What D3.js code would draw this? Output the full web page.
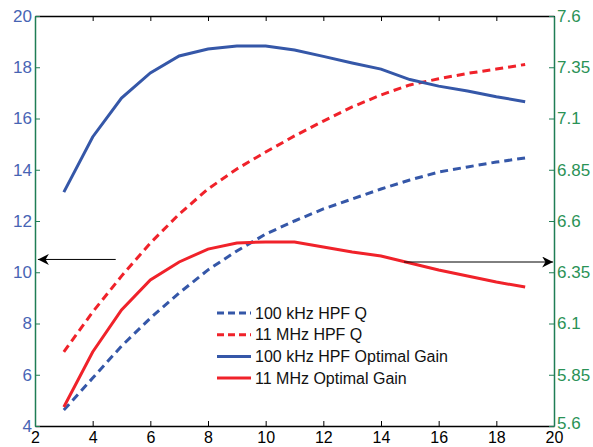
<!DOCTYPE html>
<html>
<head>
<meta charset="utf-8">
<script src="https://cdn.jsdelivr.net/npm/d3@7"></script>
<style>
  body { margin: 0; background: #fff; }
  svg { display: block; font-family: "Liberation Sans", Arial, sans-serif; }
</style>
</head>
<body>
<svg id="chart" width="593" height="447"></svg>
<script>
// Data
const xs = [3, 4, 5, 6, 7, 8, 9, 10, 11, 12, 13, 14, 15, 16, 17, 18, 19];

// left axis (Q)
const q100k = [4.62, 5.87, 7.12, 8.21, 9.19, 10.09, 10.83, 11.49, 12.00, 12.47, 12.86, 13.25, 13.60, 13.91, 14.11, 14.30, 14.46];
const q11M  = [6.89, 8.45, 9.85, 11.14, 12.27, 13.25, 14.03, 14.69, 15.32, 15.90, 16.45, 16.92, 17.31, 17.55, 17.76, 17.93, 18.11];

// right axis (gain)
const gain100k = [6.741, 7.010, 7.200, 7.322, 7.405, 7.439, 7.454, 7.454, 7.434, 7.403, 7.371, 7.341, 7.290, 7.258, 7.234, 7.206, 7.182];
const gain11M  = [5.693, 5.961, 6.166, 6.312, 6.400, 6.463, 6.493, 6.498, 6.498, 6.473, 6.449, 6.429, 6.395, 6.361, 6.332, 6.302, 6.278];

const xTicks = [2, 4, 6, 8, 10, 12, 14, 16, 18, 20];
const leftTicks = [4, 6, 8, 10, 12, 14, 16, 18, 20];
const rightTicks = [5.6, 5.85, 6.1, 6.35, 6.6, 6.85, 7.1, 7.35, 7.6];

const legendNames = ['100 kHz HPF Q', '11 MHz HPF Q', '100 kHz HPF Optimal Gain', '11 MHz Optimal Gain'];

const BLUE = '#3557a8';
const RED = '#f0222a';
const GREEN = '#1f7d55';
const GREEN_TXT = '#2a9256';
const BLUE_TXT = '#4764b4';

const margin = { left: 35, right: 39, top: 16, bottom: 21 };
const W = 593, H = 447;

const svg = d3.select('#chart');

const x = d3.scaleLinear().domain([2, 20]).range([margin.left, W - margin.right]);
const yL = d3.scaleLinear().domain([4, 20]).range([H - margin.bottom, margin.top]);
const yR = d3.scaleLinear().domain([5.6, 7.6]).range([H - margin.bottom, margin.top]);

// axes, ticks pointing inward
const axBottom = svg.append('g')
  .attr('transform', `translate(0,${H - margin.bottom})`)
  .call(d3.axisBottom(x).tickValues(xTicks).tickSize(-5).tickSizeOuter(0).tickPadding(6));
axBottom.selectAll('text').attr('font-size', 16).attr('fill', '#000');
axBottom.select('.domain').attr('stroke', '#000').attr('stroke-width', 1.5);

const axTop = svg.append('g')
  .attr('transform', `translate(0,${margin.top})`)
  .call(d3.axisTop(x).tickValues(xTicks).tickSize(-5).tickSizeOuter(0).tickFormat(''));
axTop.select('.domain').attr('stroke', '#000').attr('stroke-width', 1.5);

const axLeft = svg.append('g')
  .attr('transform', `translate(${margin.left},0)`)
  .call(d3.axisLeft(yL).tickValues(leftTicks).tickSize(-5).tickSizeOuter(0).tickPadding(3));
axLeft.selectAll('text').attr('font-size', 17).attr('fill', BLUE_TXT);
axLeft.selectAll('line').attr('stroke', GREEN);
axLeft.select('.domain').attr('stroke', GREEN).attr('stroke-width', 1.5);

const axRight = svg.append('g')
  .attr('transform', `translate(${W - margin.right},0)`)
  .call(d3.axisRight(yR).tickValues(rightTicks).tickSize(-5).tickSizeOuter(0).tickPadding(3).tickFormat(d => String(d)));
axRight.selectAll('text').attr('font-size', 17).attr('fill', GREEN_TXT);
// lift the lowest label a little so it clears the "20" under it
axRight.selectAll('text').filter(d => d === 5.6).attr('y', -3);
axRight.selectAll('line').attr('stroke', GREEN);
axRight.select('.domain').attr('stroke', GREEN).attr('stroke-width', 1.5);

// curves
const series = [
  { vals: q100k, scale: yL, color: BLUE, dash: '8,5' },
  { vals: q11M, scale: yL, color: RED, dash: '8,5' },
  { vals: gain100k, scale: yR, color: BLUE, dash: null },
  { vals: gain11M, scale: yR, color: RED, dash: null }
];

series.forEach(s => {
  const line = d3.line().x((d, i) => x(xs[i])).y(d => s.scale(d));
  svg.append('path')
    .datum(s.vals)
    .attr('d', line)
    .attr('fill', 'none')
    .attr('stroke', s.color)
    .attr('stroke-width', 3)
    .attr('stroke-dasharray', s.dash);
});

// arrows pointing to the axes
const defs = svg.append('defs');
defs.append('marker')
  .attr('id', 'arrow')
  .attr('viewBox', '0 0 10 10')
  .attr('refX', 10).attr('refY', 5)
  .attr('markerWidth', 11).attr('markerHeight', 11)
  .attr('markerUnits', 'userSpaceOnUse')
  .attr('orient', 'auto')
  .append('path')
  .attr('d', 'M0,0 L10,5 L0,10 L3,5 Z')
  .attr('fill', '#000');

svg.append('line')
  .attr('x1', x(4.8)).attr('y1', yL(10.5))
  .attr('x2', x(2.1)).attr('y2', yL(10.5))
  .attr('stroke', '#000').attr('stroke-width', 1)
  .attr('marker-end', 'url(#arrow)');

svg.append('line')
  .attr('x1', x(14.8)).attr('y1', yR(6.4))
  .attr('x2', x(19.97)).attr('y2', yR(6.4))
  .attr('stroke', '#000').attr('stroke-width', 1)
  .attr('marker-end', 'url(#arrow)');

// legend
const legend = svg.append('g').attr('transform', 'translate(217,313)');
series.forEach((s, i) => {
  const row = legend.append('g').attr('transform', `translate(0,${i * 21.7})`);
  row.append('line')
    .attr('x1', 0).attr('x2', 34).attr('y1', 0).attr('y2', 0)
    .attr('stroke', s.color).attr('stroke-width', 3)
    .attr('stroke-dasharray', s.dash ? '7,4' : null);
  row.append('text')
    .attr('x', 38).attr('y', 0).attr('dy', '0.35em')
    .attr('font-size', 16).attr('fill', '#111')
    .text(legendNames[i]);
});
</script>
</body>
</html>
